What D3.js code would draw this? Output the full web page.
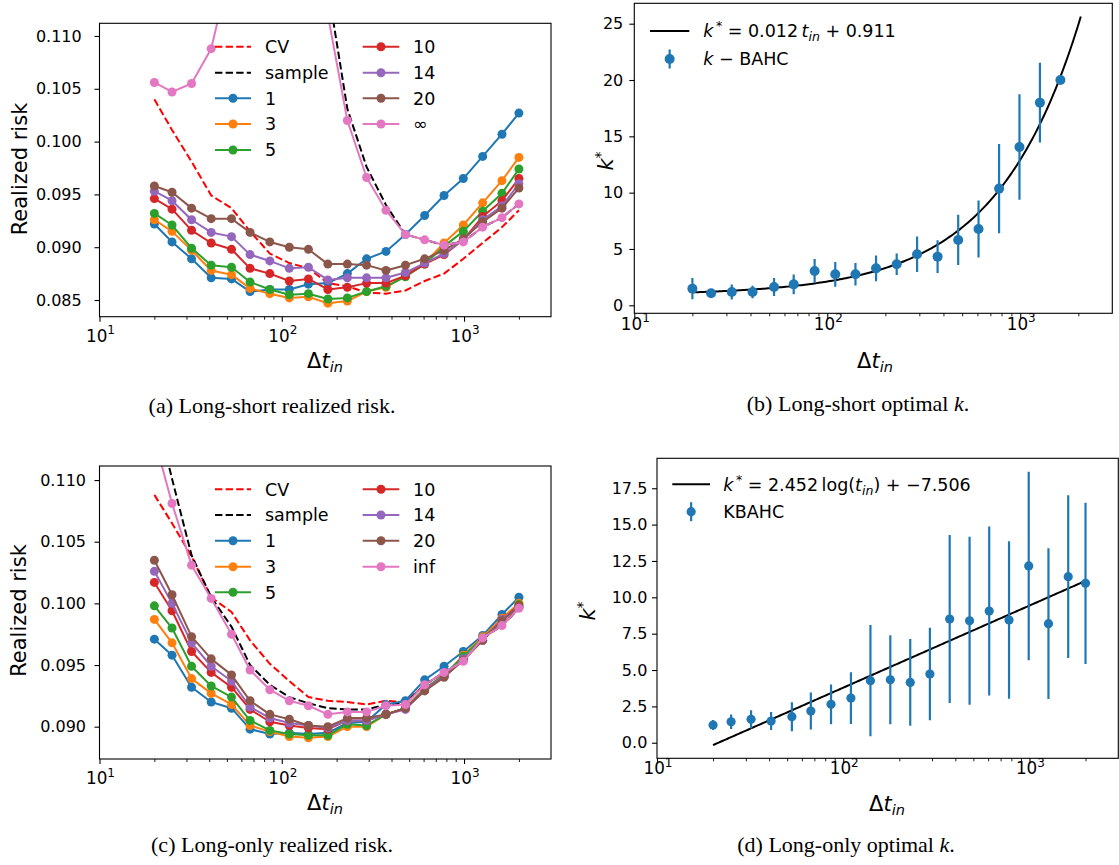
<!DOCTYPE html>
<html><head><meta charset="utf-8">
<script src="https://cdn.jsdelivr.net/npm/d3@7/dist/d3.min.js"></script>
<style>html,body{margin:0;padding:0;background:#fff}svg{display:block}</style>
</head><body>
<svg id="chart" width="1119" height="865"></svg>
<script>
// ================= DATA =================
// in-sample window lengths (x values)
const tIn  = [20,25,32,41,53,67,86,110,140,179,229,292,373,477,608,777,991,1265,1615,2000];
const tInB = [20,25,32,41,53,67,86,110,140,179,229,292,373,477,608,777,991,1265,1615];

// (a) Long-short realized risk
const aCV     = [0.1040,0.1011,0.0981,0.0949,0.0937,0.0915,0.0894,0.0885,0.0880,0.0866,0.0863,0.0857,0.0856,0.0859,0.0868,0.0875,0.0889,0.0904,0.0919,0.0935];
const aSample = [0.200,0.185,0.170,0.158,0.148,0.140,0.133,0.127,0.121,0.1146,0.1031,0.0976,0.0940,0.0912,0.0907,0.0902,0.0905,0.0919,0.0928,0.0941];
const a1      = [0.0922,0.0905,0.0889,0.0871,0.0870,0.0858,0.0860,0.0860,0.0865,0.0866,0.0875,0.0889,0.0896,0.0912,0.0930,0.0949,0.0965,0.0986,0.1007,0.1027];
const a3      = [0.0926,0.0915,0.0897,0.0878,0.0874,0.0861,0.0856,0.0852,0.0853,0.0847,0.0849,0.0858,0.0862,0.0873,0.0885,0.0904,0.0921,0.0942,0.0963,0.0985];
const a5      = [0.0932,0.0921,0.0899,0.0883,0.0881,0.0867,0.0860,0.0855,0.0856,0.0851,0.0852,0.0858,0.0863,0.0872,0.0884,0.0901,0.0915,0.0934,0.0951,0.0974];
const a10     = [0.0946,0.0936,0.0916,0.0904,0.0898,0.0880,0.0875,0.0868,0.0870,0.0860,0.0862,0.0866,0.0866,0.0873,0.0884,0.0893,0.0907,0.0929,0.0944,0.0965];
const a14     = [0.0953,0.0944,0.0926,0.0914,0.0910,0.0893,0.0887,0.0880,0.0881,0.0869,0.0871,0.0871,0.0871,0.0876,0.0885,0.0894,0.0907,0.0926,0.0939,0.0960];
const a20     = [0.0958,0.0952,0.0937,0.0927,0.0927,0.0914,0.0905,0.0900,0.0898,0.0884,0.0884,0.0883,0.0878,0.0883,0.0889,0.0897,0.0908,0.0924,0.0937,0.0956];
const aInf    = [0.1056,0.1047,0.1055,0.1088,0.117,0.125,0.130,0.130,0.125,0.112,0.1020,0.0966,0.0935,0.0912,0.0907,0.0902,0.0905,0.0919,0.0928,0.0941];
const aLabels = ["CV","sample","1","3","5","10","14","20","\u221e"];

// (c) Long-only realized risk
const cCV     = [0.1088,0.1065,0.1038,0.1005,0.0993,0.0970,0.0951,0.0937,0.0924,0.0921,0.0920,0.0918,0.0921,0.0920,0.0934,0.0944,0.0953,0.0972,0.0982,0.0996];
const cSample = [0.116,0.1101,0.1039,0.1005,0.0981,0.0950,0.0934,0.0924,0.0919,0.0915,0.0914,0.0914,0.0918,0.0919,0.0934,0.0944,0.0953,0.0972,0.0982,0.0996];
const c1      = [0.0971,0.0958,0.0932,0.0920,0.0915,0.0898,0.0894,0.0895,0.0894,0.0895,0.0903,0.0904,0.0918,0.0921,0.0938,0.0949,0.0961,0.0974,0.0991,0.1005];
const c3      = [0.0987,0.0968,0.0939,0.0927,0.0918,0.0901,0.0896,0.0892,0.0891,0.0892,0.0900,0.0900,0.0910,0.0915,0.0930,0.0941,0.0958,0.0973,0.0988,0.1000];
const c5      = [0.0998,0.0980,0.0949,0.0933,0.0924,0.0905,0.0897,0.0894,0.0893,0.0893,0.0902,0.0901,0.0910,0.0915,0.0931,0.0942,0.0957,0.0972,0.0986,0.0999];
const c10     = [0.1017,0.0994,0.0961,0.0944,0.0932,0.0914,0.0904,0.0901,0.0899,0.0898,0.0905,0.0905,0.0910,0.0915,0.0930,0.0941,0.0954,0.0970,0.0987,0.0998];
const c14     = [0.1026,0.1000,0.0968,0.0949,0.0937,0.0916,0.0907,0.0903,0.0901,0.0899,0.0905,0.0905,0.0910,0.0914,0.0930,0.0941,0.0955,0.0970,0.0987,0.0997];
const c20     = [0.1035,0.1007,0.0973,0.0955,0.0942,0.0921,0.0910,0.0906,0.0901,0.0900,0.0907,0.0907,0.0910,0.0915,0.0929,0.0940,0.0954,0.0970,0.0986,0.0997];
const cInf    = [0.1134,0.1081,0.1031,0.1004,0.0975,0.0946,0.0930,0.0921,0.0917,0.0910,0.0912,0.0912,0.0917,0.0918,0.0934,0.0944,0.0953,0.0972,0.0982,0.0996];
const cLabels = ["CV","sample","1","3","5","10","14","20","inf"];

// (b) Long-short optimal k (k-BAHC) with error bars
const bK   = [1.48,1.07,1.18,1.18,1.63,1.86,3.05,2.75,2.75,3.28,3.64,4.53,4.32,5.80,6.78,10.36,14.05,17.99,20.0];
const bErr = [0.94,0.30,0.67,0.55,0.80,0.87,1.07,1.10,1.00,1.14,0.96,1.57,1.45,2.23,2.53,3.96,4.69,3.54,0.0];
const bFitSlope = 0.012, bFitIntercept = 0.911, bFitRange = [20, 2060];

// (d) Long-only optimal k (KBAHC) with error bars
const dK   = [1.22,1.44,1.61,1.49,1.79,2.18,2.64,3.07,4.27,4.33,4.15,4.72,8.51,8.39,9.06,8.44,12.16,8.19,11.42,10.96];
const dErr = [0.34,0.50,0.63,0.62,1.00,1.27,1.36,1.78,3.82,3.06,2.99,3.18,5.77,5.78,5.81,5.42,6.48,5.18,5.60,5.55];
const dFitSlope = 2.452, dFitIntercept = -7.506, dFitRange = [20, 2000];

// tick labels
const xMajorTicks = [10,100,1000];
const xMajorExp   = ["1","2","3"];
const xMinorTicks = [20,30,40,50,60,70,80,90,200,300,400,500,600,700,800,900,2000,3000];
const aYTicks = [0.085,0.090,0.095,0.100,0.105,0.110];
const cYTicks = [0.090,0.095,0.100,0.105,0.110];
const bYTicks = [0,5,10,15,20,25];
const dYTicks = [0,2.5,5,7.5,10,12.5,15,17.5];

// ================= DRAWING =================
const SANS = "'DejaVu Sans', sans-serif";
const SERIF = "'Liberation Serif', 'Times New Roman', serif";
const C = {blue:"#1f77b4",orange:"#ff7f0e",green:"#2ca02c",red:"#d62728",purple:"#9467bd",brown:"#8c564b",pink:"#e377c2"};
const svg = d3.select("#chart");
svg.append("rect").attr("width",1119).attr("height",865).attr("fill","#fff");

function xScale(box){ return d3.scaleLog().domain([10,3000]).range([box.l, box.r]); }

function drawFrame(g, box){
  g.append("rect").attr("x",box.l).attr("y",box.t).attr("width",box.r-box.l).attr("height",box.b-box.t)
   .attr("fill","none").attr("stroke","#000").attr("stroke-width",1.1);
}

function drawXAxis(g, x, box, labelBase, xlabel){
  const maj = g.append("g").attr("transform",`translate(0,${box.b})`)
    .call(d3.axisBottom(x).tickValues(xMajorTicks).tickSize(5).tickFormat(""));
  maj.select(".domain").remove();
  maj.selectAll("line").attr("stroke-width",1.1);
  const mn = g.append("g").attr("transform",`translate(0,${box.b})`)
    .call(d3.axisBottom(x).tickValues(xMinorTicks.filter(v=>v<3000)).tickSize(3).tickFormat(""));
  mn.select(".domain").remove();
  mn.selectAll("line").attr("stroke-width",0.9);
  xMajorTicks.forEach((v,i)=>{
    const t = g.append("text").attr("x",x(v)+1).attr("y",labelBase).attr("text-anchor","middle")
      .attr("font-family",SANS).attr("font-size",16.8).attr("fill","#000");
    t.append("tspan").text("10");
    t.append("tspan").attr("dy",-7.5).attr("font-size",12).text(xMajorExp[i]);
  });
  // x-axis label  Δt_in
  const lab = g.append("text").attr("x",xlabel.cx).attr("y",xlabel.base).attr("text-anchor","middle")
    .attr("font-family",SANS).attr("font-size",21).attr("fill","#000");
  lab.append("tspan").text("\u0394");
  lab.append("tspan").attr("font-style","italic").text("t");
  lab.append("tspan").attr("font-style","italic").attr("font-size",14.5).attr("dy",4).text("in");
}

function drawYAxis(g, y, box, ticks, fmt, pad){
  const ax = g.append("g").attr("transform",`translate(${box.l},0)`)
    .call(d3.axisLeft(y).tickValues(ticks).tickSize(5).tickPadding(pad).tickFormat(fmt));
  ax.select(".domain").remove();
  ax.selectAll("line").attr("stroke-width",1.1);
  ax.selectAll("text").attr("font-family",SANS).attr("font-size",16).attr("fill","#000");
  ax.attr("font-family",SANS).attr("font-size",16);
}

function yLabelText(g, cx, base, cy){
  return g.append("text").attr("transform",`translate(${base},${cy}) rotate(-90)`).attr("text-anchor","middle")
    .attr("font-family",SANS).attr("font-size",21).attr("fill","#000");
}

function caption(cx, base, parts){
  const t = svg.append("text").attr("x",cx).attr("y",base).attr("text-anchor","middle")
    .attr("font-family",SERIF).attr("font-size",22).attr("fill","#000");
  parts.forEach(p=>{ const s=t.append("tspan").text(p.t); if(p.i) s.attr("font-style","italic"); });
}

let clipN = 0;
function clip(box){
  const id = "clip"+(clipN++);
  svg.append("clipPath").attr("id",id).append("rect")
    .attr("x",box.l).attr("y",box.t).attr("width",box.r-box.l).attr("height",box.b-box.t);
  return id;
}

function drawRisk(cfg){
  const {box, yDomain, yTicks, ypad, series, labels, legendRows, xTickBase, xlabel, ylab} = cfg;
  const g = svg.append("g");
  const x = xScale(box);
  const y = d3.scaleLinear().domain(yDomain).range([box.b, box.t]);
  const plot = g.append("g").attr("clip-path",`url(#${clip(box)})`);
  const line = d3.line().x((d,j)=>x(tIn[j])).y(d=>y(d));
  series.forEach(s=>{
    plot.append("path").datum(s.values).attr("d",line).attr("fill","none")
      .attr("stroke",s.color).attr("stroke-width",2)
      .attr("stroke-dasharray", s.dashed ? "7.4,3.2" : null)
      .attr("stroke-linejoin","round");
    if(s.marker){
      plot.append("g").selectAll("circle").data(s.values).join("circle")
        .attr("cx",(d,j)=>x(tIn[j])).attr("cy",d=>y(d)).attr("r",4.5).attr("fill",s.color);
    }
  });
  drawFrame(g, box);
  drawXAxis(g, x, box, xTickBase, xlabel);
  drawYAxis(g, y, box, yTicks, d3.format(".3f"), ypad);
  const yl = yLabelText(g, 0, ylab.base, ylab.cy);
  yl.text("Realized risk");
  // legend (two columns, 5 rows)
  const cols = [{h0:215,h1:251,tx:265},{h0:362.7,h1:399.3,tx:413}];
  series.forEach((s,i)=>{
    const col = cols[i<5?0:1], ry = legendRows[i%5];
    g.append("line").attr("x1",col.h0).attr("x2",col.h1).attr("y1",ry).attr("y2",ry)
      .attr("stroke",s.color).attr("stroke-width",2).attr("stroke-dasharray", s.dashed ? "7.4,3.2" : null);
    if(s.marker) g.append("circle").attr("cx",(col.h0+col.h1)/2).attr("cy",ry).attr("r",4.5).attr("fill",s.color);
    g.append("text").attr("x",col.tx).attr("y",ry+6.3).attr("font-family",SANS).attr("font-size",17.5)
      .attr("fill","#000").text(labels[i]);
  });
}

function riskSeries(vals){
  const cols = ["red","#000",C.blue,C.orange,C.green,C.red,C.purple,C.brown,C.pink];
  return vals.map((v,i)=>({values:v,color:cols[i],dashed:i<2,marker:i>=2}));
}

// ---- (a)
drawRisk({
  box:{l:99.5,r:551,t:23.3,b:316.7}, yDomain:[0.08342,0.1112], yTicks:aYTicks, ypad:12.8,
  series:riskSeries([aCV,aSample,a1,a3,a5,a10,a14,a20,aInf]), labels:aLabels,
  legendRows:[46.7,72.7,98.3,124,150], xTickBase:341.5, xlabel:{cx:325,base:368},
  ylab:{base:26.5,cy:169}
});
// ---- (c)
drawRisk({
  box:{l:99.5,r:551,t:466,b:759}, yDomain:[0.08738,0.11114], yTicks:cYTicks, ypad:8.5,
  series:riskSeries([cCV,cSample,c1,c3,c5,c10,c14,c20,cInf]), labels:cLabels,
  legendRows:[489.3,515,540.7,566.7,592.3], xTickBase:784, xlabel:{cx:325,base:810},
  ylab:{base:26,cy:610.5}
});

function drawK(cfg){
  const {box, yDomain, yTicks, ypad, fmt, tx, k, err, fit, r, legend, xTickBase, xlabel, ylab} = cfg;
  const g = svg.append("g");
  const x = xScale(box);
  const y = d3.scaleLinear().domain(yDomain).range([box.b, box.t]);
  const plot = g.append("g").attr("clip-path",`url(#${clip(box)})`);
  // fitted curve
  const fx = d3.range(0,201).map(i=>Math.pow(10, Math.log10(fit.range[0]) + i/200*(Math.log10(fit.range[1])-Math.log10(fit.range[0]))));
  plot.append("path").datum(fx).attr("d", d3.line().x(t=>x(t)).y(t=>y(fit.f(t))))
    .attr("fill","none").attr("stroke","#000").attr("stroke-width",2);
  // error bars
  plot.append("g").selectAll("line").data(k).join("line")
    .attr("x1",(d,i)=>x(tx[i])).attr("x2",(d,i)=>x(tx[i]))
    .attr("y1",(d,i)=>y(d-err[i])).attr("y2",(d,i)=>y(d+err[i]))
    .attr("stroke",C.blue).attr("stroke-width",2.2);
  plot.append("g").selectAll("circle").data(k).join("circle")
    .attr("cx",(d,i)=>x(tx[i])).attr("cy",d=>y(d)).attr("r",r).attr("fill",C.blue);
  drawFrame(g, box);
  drawXAxis(g, x, box, xTickBase, xlabel);
  drawYAxis(g, y, box, yTicks, fmt, ypad);
  const yl = yLabelText(g, 0, ylab.base, ylab.cy);
  yl.append("tspan").attr("font-style","italic").text("k");
  yl.append("tspan").attr("font-size",14).attr("dy",-8).text("*");
  // legend
  const L = legend;
  g.append("line").attr("x1",L.h0).attr("x2",L.h1).attr("y1",L.y1).attr("y2",L.y1).attr("stroke","#000").attr("stroke-width",2);
  const mx = (L.h0+L.h1)/2;
  g.append("line").attr("x1",mx).attr("x2",mx).attr("y1",L.y2-9.5).attr("y2",L.y2+9.5).attr("stroke",C.blue).attr("stroke-width",2.2);
  g.append("circle").attr("cx",mx).attr("cy",L.y2).attr("r",r).attr("fill",C.blue);
  const t1 = g.append("text").attr("x",L.tx).attr("y",L.y1+6.3).attr("font-family",SANS).attr("font-size",17.5).attr("fill","#000");
  L.eq(t1);
  const t2 = g.append("text").attr("x",L.tx).attr("y",L.y2+6.3).attr("font-family",SANS).attr("font-size",17.5).attr("fill","#000");
  L.name(t2);
}

function kStar(t){
  t.append("tspan").attr("font-style","italic").text("k");
  t.append("tspan").attr("font-size",12.5).attr("dy",-7).text("\u2009*");
  t.append("tspan").attr("dy",7).text(" = ");
}

// ---- (b)
drawK({
  box:{l:634.3,r:1112.3,t:3.3,b:313.3}, yDomain:[-0.71,26.81], yTicks:bYTicks, ypad:6, fmt:d3.format("d"),
  tx:tInB, k:bK, err:bErr, r:5,
  fit:{range:bFitRange, f:t=>bFitSlope*t+bFitIntercept},
  legend:{h0:650,h1:689.3,y1:31,y2:59,tx:703.3,
    eq:t=>{ kStar(t); t.append("tspan").text(bFitSlope.toFixed(3)+"\u2009");
      t.append("tspan").attr("font-style","italic").text("t");
      t.append("tspan").attr("font-style","italic").attr("font-size",12.5).attr("dy",4).text("in");
      t.append("tspan").attr("dy",-4).text(" + "+bFitIntercept.toFixed(3)); },
    name:t=>{ t.append("tspan").attr("font-style","italic").text("k");
      t.append("tspan").text(" \u2212 BAHC"); }},
  xTickBase:329.5, xlabel:{cx:875,base:367.6}, ylab:{base:613,cy:161}
});
// ---- (d)
drawK({
  box:{l:657,r:1118.3,t:458.3,b:758.3}, yDomain:[-1.07,19.56], yTicks:dYTicks, ypad:4.7, fmt:d3.format(".1f"),
  tx:tIn, k:dK, err:dErr, r:4.6,
  fit:{range:dFitRange, f:t=>dFitSlope*Math.log(t)+dFitIntercept},
  legend:{h0:672.3,h1:710,y1:484.3,y2:511.7,tx:723.3,
    eq:t=>{ kStar(t); t.append("tspan").text(dFitSlope.toFixed(3)+"\u2009log(");
      t.append("tspan").attr("font-style","italic").text("t");
      t.append("tspan").attr("font-style","italic").attr("font-size",12.5).attr("dy",4).text("in");
      t.append("tspan").attr("dy",-4).text(") + \u2212"+Math.abs(dFitIntercept).toFixed(3)); },
    name:t=>{ t.append("tspan").text("KBAHC"); }},
  xTickBase:774, xlabel:{cx:887,base:810.7}, ylab:{base:595,cy:611}
});

// captions
caption(272, 413, [{t:"(a) Long-short realized risk."}]);
caption(858, 411, [{t:"(b) Long-short optimal "},{t:"k",i:true},{t:"."}]);
caption(272, 852, [{t:"(c) Long-only realized risk."}]);
caption(846, 852, [{t:"(d) Long-only optimal "},{t:"k",i:true},{t:"."}]);
</script>
</body></html>
